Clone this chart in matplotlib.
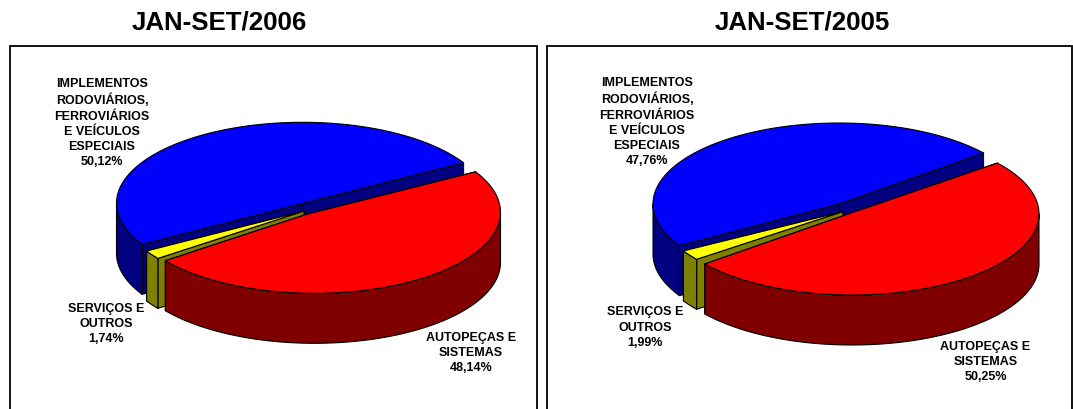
import numpy as np
import matplotlib
matplotlib.use('Agg')
import matplotlib.pyplot as plt
from matplotlib.patches import Polygon, Rectangle

plt.rcParams['font.family'] = ['Liberation Sans', 'DejaVu Sans']

titles = ['JAN-SET/2006', 'JAN-SET/2005']
categories = ['IMPLEMENTOS\nRODOVIÁRIOS,\nFERROVIÁRIOS\nE VEÍCULOS\nESPECIAIS', 'SERVIÇOS E\nOUTROS', 'AUTOPEÇAS E\nSISTEMAS']
values_2006 = [50.12, 1.74, 48.14]
values_2005 = [47.76, 1.99, 50.25]

top_colors = ['#0000ff', '#ffff00', '#ff0000']
side_colors = ['#000080', '#808000', '#800000']

A, B, DEPTH = 186, 81, 50


def arc(center, t0, t1, dy=0, a=A):
    t = np.radians(np.linspace(t0, t1, 120))
    return np.column_stack([center[0] + a * np.cos(t), center[1] - B * np.sin(t) + dy])


def poly(ax, pts, color):
    ax.add_patch(Polygon(pts, closed=True, fc=color, ec='black', lw=0.8, joinstyle='round'))


def draw_slice(ax, i, center, apex, t0, t1, a=A):
    # cut faces first, then outer rim (only the front half shows), then the top
    down = np.array([0, DEPTH])
    apex = np.array(apex, dtype=float)
    for t in (t0, t1):
        p = arc(center, t, t, a=a)[0]
        poly(ax, [apex, p, p + down, apex + down], side_colors[i])
    lo, hi = max(t0, 180), min(t1, 360)
    if lo < hi:
        rim = np.vstack([arc(center, lo, hi, a=a), arc(center, hi, lo, DEPTH, a=a)])
        poly(ax, rim, side_colors[i])
    poly(ax, np.vstack([[apex], arc(center, t0, t1, a=a)]), top_colors[i])


def draw_pie(ax, values, start, blue_c, blue_a, yellow_c, yellow_a, red_c, red_a, red_r=A):
    spans = np.array(values) / 100 * 360
    t1 = start + spans[0]
    t2 = t1 + spans[1]
    t3 = t2 + spans[2]
    draw_slice(ax, 0, blue_c, blue_a, start, t1)
    draw_slice(ax, 1, yellow_c, yellow_a, t1, t2)
    draw_slice(ax, 2, red_c, red_a, t2, t3, a=red_r)


def label(ax, x, y, cat, val):
    txt = cat + '\n' + f'{val:.2f}'.replace('.', ',') + '%'
    ax.text(x, y, txt, ha='center', va='top', fontsize=9.0, fontweight='bold', linespacing=1.36)


fig = plt.figure(figsize=(10.73, 4.10), dpi=100)
ax = fig.add_axes([0, 0, 1, 1])
ax.set_xlim(0, 1073)
ax.set_ylim(410, 0)
ax.axis('off')

ax.add_patch(Rectangle((9.5, 47), 527, 380, fc='white', ec='black', lw=1.3))
ax.add_patch(Rectangle((547, 47), 525, 380, fc='white', ec='black', lw=1.3))

ax.text(219, 22.5, titles[0], ha='center', va='center', fontsize=18.6, fontweight='bold')
ax.text(802.5, 22.5, titles[1], ha='center', va='center', fontsize=18.6, fontweight='bold')

draw_pie(ax, values_2006, 30, (302.5, 204.3), (303, 204.3), (307, 211), (304, 212), (314.5, 213.3), (306, 215.5))
draw_pie(ax, values_2005, 39, (839, 205), (839, 205), (843, 210.3), (843, 212.5), (852, 215), (844, 216.5), red_r=187)

label(ax, 102, 78, categories[0], values_2006[0])
label(ax, 106, 303, categories[1], values_2006[1])
label(ax, 471, 332, categories[2], values_2006[2])
label(ax, 647, 77, categories[0], values_2005[0])
label(ax, 645, 306.5, categories[1], values_2005[1])
label(ax, 985.5, 341, categories[2], values_2005[2])

fig.savefig('out.png', dpi=100)
